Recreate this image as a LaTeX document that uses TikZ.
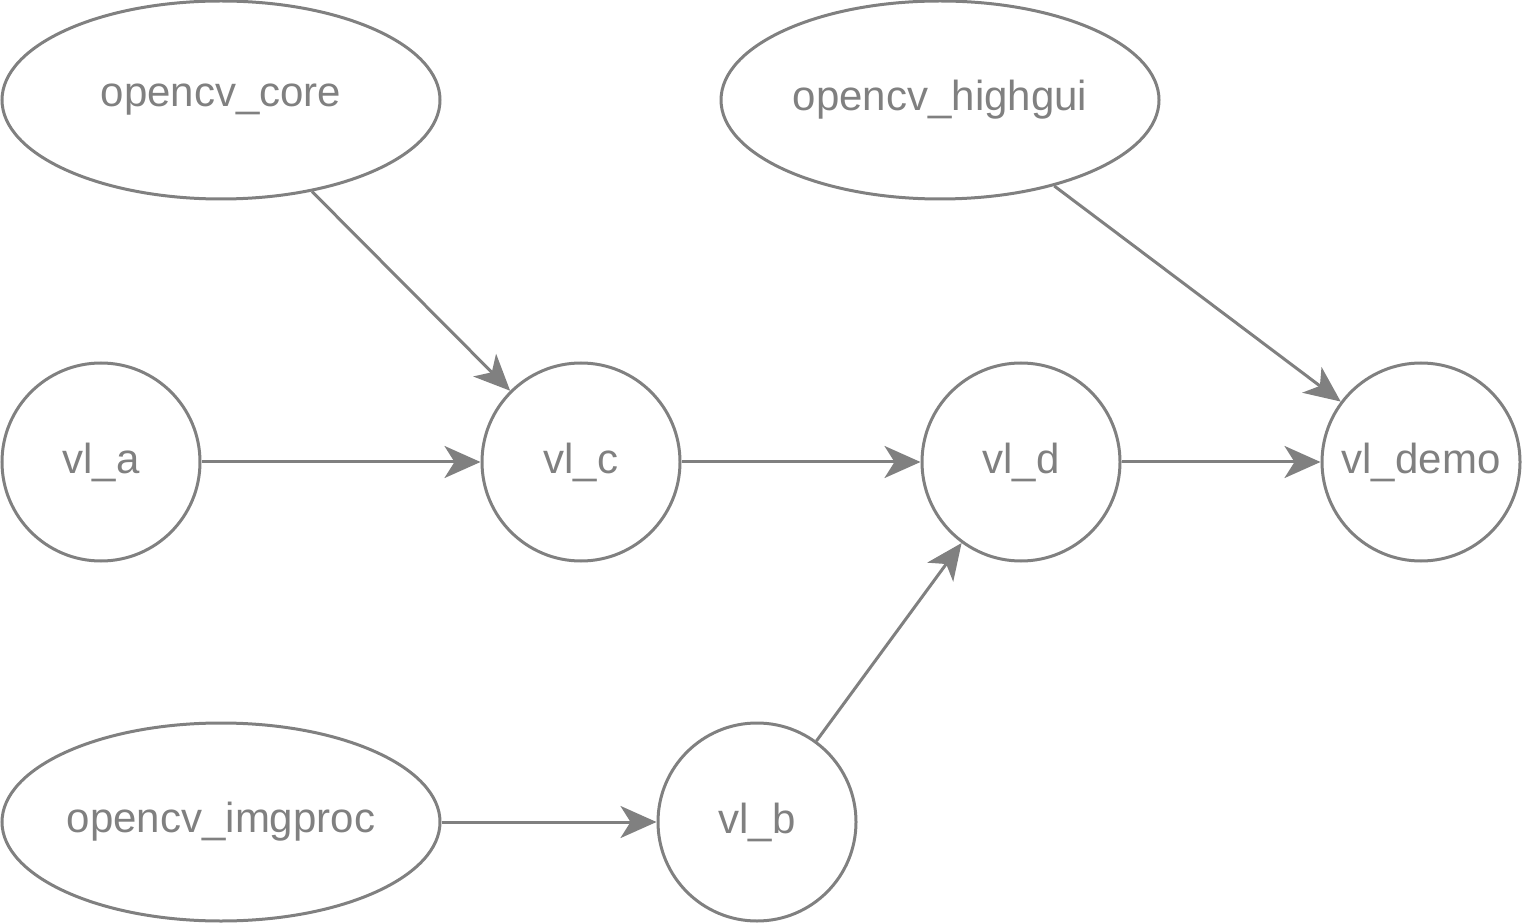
\documentclass[tikz,border=0pt]{standalone}
\usepackage{fontspec}
\setmainfont{Liberation Sans}
\usetikzlibrary{shapes.geometric,arrows.meta}
\begin{document}
\begin{tikzpicture}[x=0.5pt,y=-0.5pt,
  every node/.style={draw=gray, line width=1.5pt, text=gray, font=\fontsize{21}{24}\selectfont, inner sep=0pt},
  ell/.style={ellipse, minimum width=219pt, minimum height=99pt},
  circ/.style={circle, minimum size=99pt},
  conn/.style={draw=gray, line width=1.5pt, -{Stealth[length=18pt,width=16pt,inset=5pt]}}]
\useasboundingbox (0,0) rectangle (1524,924);
\node[ell] (core) at (221,100) {opencv\_core};
\node[ell] (highgui) at (940,100) {opencv\_highgui};
\node[ell] (imgproc) at (221,822) {opencv\_imgproc};
\node[circ] (a) at (101,462) {vl\_a};
\node[circ] (c) at (581,462) {vl\_c};
\node[circ] (d) at (1021,462) {vl\_d};
\node[circ] (demo) at (1421,462) {vl\_demo};
\node[circ] (b) at (757,822) {vl\_b};
\draw[conn] (core) -- (c);
\draw[conn] (a) -- (c);
\draw[conn] (c) -- (d);
\draw[conn] (d) -- (demo);
\draw[conn] (highgui) -- (demo);
\draw[conn] (imgproc) -- (b);
\draw[conn] (b) -- (d);
\end{tikzpicture}
\end{document}
